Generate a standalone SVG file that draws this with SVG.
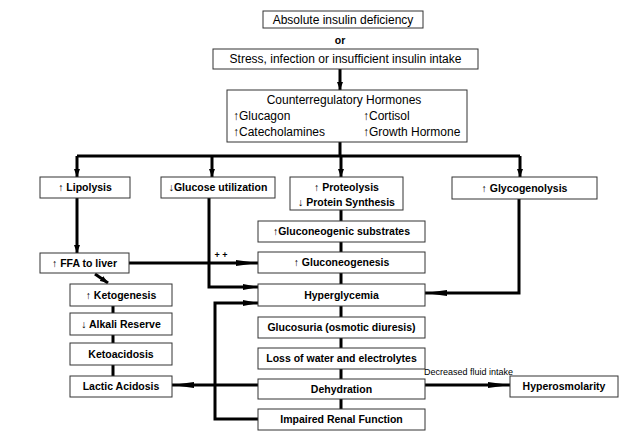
<svg xmlns="http://www.w3.org/2000/svg" width="640" height="436" viewBox="0 0 640 436">
<defs>
<style>
.box{fill:#fff;stroke:#333;stroke-width:1}
.t{font-family:"Liberation Sans",Arial,sans-serif;font-size:10.5px;font-weight:bold;text-anchor:middle;fill:#000}
.r{font-family:"Liberation Sans",Arial,sans-serif;font-size:12px;fill:#000}
.c{text-anchor:middle}
.ln{fill:none;stroke:#000;stroke-width:3}
</style>
<marker id="ah" markerUnits="userSpaceOnUse" markerWidth="22" markerHeight="7" refX="22" refY="3.5" orient="auto">
<path d="M0,0.5 L22,3.5 L0,6.5 z" fill="#000"/>
</marker>
<marker id="am" markerUnits="userSpaceOnUse" markerWidth="15" markerHeight="7" refX="15" refY="3.5" orient="auto">
<path d="M0,0.5 L15,3.5 L0,6.5 z" fill="#000"/>
</marker>
<marker id="as" markerUnits="userSpaceOnUse" markerWidth="8" markerHeight="7" refX="8" refY="3.5" orient="auto">
<path d="M0,0.5 L8,3.5 L0,6.5 z" fill="#000"/>
</marker>
</defs>

<g id="connectors">
<path class="ln" d="M340,69 V90" marker-end="url(#as)"/>
<path class="ln" d="M340,142 V156"/>
<path class="ln" d="M77,156 H520"/>
<path class="ln" d="M77,156 V177" marker-end="url(#as)"/>
<path class="ln" d="M212,156 V177" marker-end="url(#as)"/>
<path class="ln" d="M341,156 V177" marker-end="url(#as)"/>
<path class="ln" d="M520,156 V177" marker-end="url(#as)"/>
<path class="ln" d="M77,198 V253" marker-end="url(#as)"/>
<path class="ln" d="M129,263 H258" marker-end="url(#ah)"/>
<path class="ln" d="M209,198 V287 H258" marker-end="url(#am)"/>
<path class="ln" d="M519,199 V293 H425" marker-end="url(#ah)"/>
<path class="ln" d="M258,419 H215 V303 H258" marker-end="url(#am)"/>
<path class="ln" d="M95,274 L108,283" marker-end="url(#as)"/>
<path class="ln" d="M341,210 V221 M341,242 V252 M341,273 V284 M341,306 V317 M341,338 V348 M341,369 V379 M341,399 V409"/>
<path class="ln" d="M113,306 V313 M113,335 V343 M113,365 V376"/>
<path class="ln" d="M258,385 H172" marker-end="url(#ah)"/>
<path class="ln" d="M425,385 H510" marker-end="url(#ah)"/>
<text x="221" y="258" class="t" style="font-size:9px">+ +</text>
<text x="424" y="375" class="r" style="font-size:9px">Decreased fluid intake</text>
</g>

<g id="n-absolute"><rect class="box" x="263" y="11" width="160" height="17"/><text class="r c" x="343" y="24" text-anchor="middle">Absolute insulin deficiency</text></g>
<g id="n-or"><text class="t" x="340" y="44">or</text></g>
<g id="n-stress"><rect class="box" x="213" y="49" width="265" height="20"/><text class="r" x="345.5" y="63" text-anchor="middle">Stress, infection or insufficient insulin intake</text></g>
<g id="n-counter"><rect class="box" x="227" y="90" width="240" height="52"/>
<text class="r" x="344" y="104" text-anchor="middle">Counterregulatory Hormones</text>
<text class="r" x="233" y="120">↑Glucagon</text>
<text class="r" x="363" y="120">↑Cortisol</text>
<text class="r" x="233" y="136">↑Catecholamines</text>
<text class="r" x="363" y="136">↑Growth Hormone</text>
</g>
<g id="n-lipolysis"><rect class="box" x="40" y="177" width="90" height="21"/><text class="t" x="85" y="191">↑ Lipolysis</text></g>
<g id="n-glucutil"><rect class="box" x="161" y="177" width="114" height="21"/><text class="t" x="218" y="191">↓Glucose utilization</text></g>
<g id="n-proteo"><rect class="box" x="290" y="177" width="113" height="33"/><text class="t" x="346.5" y="191">↑ Proteolysis</text><text class="t" x="346.5" y="206">↓ Protein Synthesis</text></g>
<g id="n-glycogen"><rect class="box" x="452" y="177" width="145" height="22"/><text class="t" x="524.5" y="192">↑ Glycogenolysis</text></g>
<g id="n-substrates"><rect class="box" x="258" y="221" width="167" height="21"/><text class="t" x="341.5" y="235">↑Gluconeogenic substrates</text></g>
<g id="n-gluconeo"><rect class="box" x="258" y="252" width="167" height="21"/><text class="t" x="341.5" y="266">↑ Gluconeogenesis</text></g>
<g id="n-ffa"><rect class="box" x="40" y="253" width="89" height="20"/><text class="t" x="84.5" y="267">↑ FFA to liver</text></g>
<g id="n-hyperglyc"><rect class="box" x="258" y="284" width="167" height="22"/><text class="t" x="341.5" y="299">Hyperglycemia</text></g>
<g id="n-keto"><rect class="box" x="70" y="284" width="102" height="22"/><text class="t" x="121" y="299">↑ Ketogenesis</text></g>
<g id="n-alkali"><rect class="box" x="70" y="313" width="102" height="22"/><text class="t" x="121" y="328">↓ Alkali Reserve</text></g>
<g id="n-ketoacid"><rect class="box" x="70" y="343" width="102" height="22"/><text class="t" x="121" y="358">Ketoacidosis</text></g>
<g id="n-lactic"><rect class="box" x="70" y="376" width="102" height="21"/><text class="t" x="121" y="390">Lactic Acidosis</text></g>
<g id="n-glucosuria"><rect class="box" x="258" y="317" width="167" height="21"/><text class="t" x="341.5" y="331">Glucosuria (osmotic diuresis)</text></g>
<g id="n-loss"><rect class="box" x="258" y="348" width="167" height="21"/><text class="t" x="341.5" y="362">Loss of water and electrolytes</text></g>
<g id="n-dehydr"><rect class="box" x="258" y="379" width="167" height="20"/><text class="t" x="341.5" y="393">Dehydration</text></g>
<g id="n-renal"><rect class="box" x="258" y="409" width="167" height="21"/><text class="t" x="341.5" y="423">Impaired Renal Function</text></g>
<g id="n-hyperosm"><rect class="box" x="510" y="376" width="108" height="21"/><text class="t" x="564" y="390">Hyperosmolarity</text></g>
</svg>
